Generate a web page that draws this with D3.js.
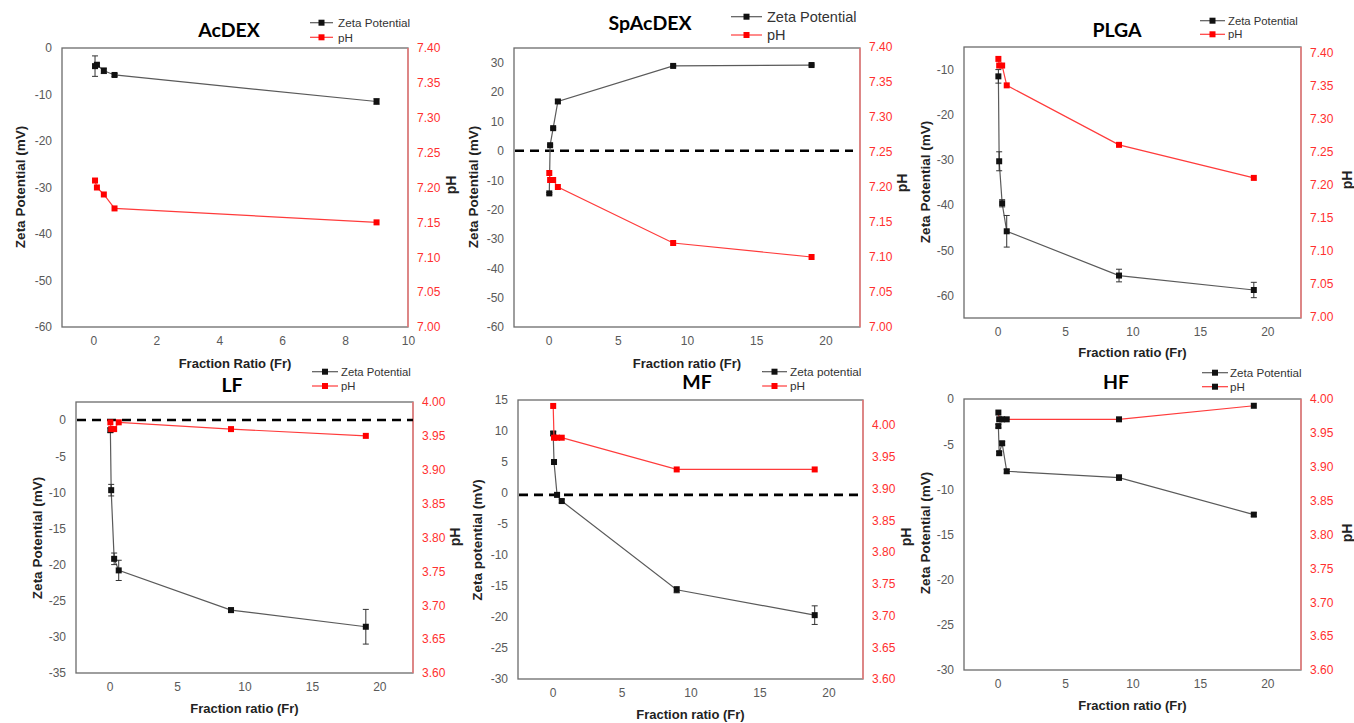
<!DOCTYPE html>
<html lang="en">
<head>
  <meta charset="UTF-8">
  <title>Zeta potential and pH vs fraction ratio</title>
  <style>
    body { margin: 0; background: #fff; }
    svg { display: block; }
    text { font-family: "Liberation Sans", Arial, sans-serif; }
    .title { font-family: Lato, "Open Sans", sans-serif; font-weight: bold; }
  </style>
</head>
<body>
  <svg id="chart" width="1354" height="723"></svg>

  <script src="https://d3js.org/d3.v7.min.js"></script>
  <script>
    // fraction ratios (Fr) used in the experiments
    const frFull = [0.05, 0.11, 0.33, 0.67, 9, 19];
    const frAcDEX = [0.05, 0.11, 0.33, 0.67, 9];

    // AcDEX
    const zetaAcDEX = [-3.9, -3.6, -4.9, -5.8, -11.5];
    const zetaErrAcDEX = [2.2, 0.3, 0.6, 0.3, 0.6];
    const phAcDEX = [7.21, 7.20, 7.19, 7.17, 7.15];

    // SpAcDEX
    const zetaSpAcDEX = [-14.5, 1.9, 7.7, 16.8, 28.9, 29.2];
    const zetaErrSpAcDEX = [0.3, 0.3, 0.3, 0.6, 0.3, 0.3];
    const phSpAcDEX = [7.22, 7.21, 7.21, 7.20, 7.12, 7.10];

    // PLGA
    const zetaPLGA = [-11.5, -30.3, -39.6, -45.8, -55.6, -58.8];
    const zetaErrPLGA = [1.5, 2.1, 0.8, 3.5, 1.4, 1.7];
    const phPLGA = [7.39, 7.38, 7.38, 7.35, 7.26, 7.21];

    // LF
    const zetaLF = [-1.4, -9.7, -19.2, -20.8, -26.3, -28.6];
    const zetaErrLF = [0.3, 0.8, 0.8, 1.4, 0.3, 2.4];
    const phLF = [3.97, 3.96, 3.96, 3.97, 3.96, 3.95];

    // MF
    const zetaMF = [9.6, 5.0, -0.3, -1.3, -15.6, -19.7];
    const zetaErrMF = [0.3, 0.3, 0.3, 0.3, 0.5, 1.5];
    const phMF = [4.03, 3.98, 3.98, 3.98, 3.93, 3.93];

    // HF
    const zetaHF = [-3.0, -6.0, -4.9, -8.0, -8.7, -12.8];
    const zetaErrHF = [0.2, 0.2, 0.2, 0.2, 0.3, 0.2];
    const phHF = [3.98, 3.97, 3.97, 3.97, 3.97, 3.99];

    // tick labels
    const xTicks10 = [0, 2, 4, 6, 8, 10];
    const xTicks20 = [0, 5, 10, 15, 20];
    const zetaTicksAcDEX = [-60, -50, -40, -30, -20, -10, 0];
    const zetaTicksSpAcDEX = [-60, -50, -40, -30, -20, -10, 0, 10, 20, 30];
    const zetaTicksPLGA = [-60, -50, -40, -30, -20, -10];
    const zetaTicksLF = [-35, -30, -25, -20, -15, -10, -5, 0];
    const zetaTicksMF = [-30, -25, -20, -15, -10, -5, 0, 5, 10, 15];
    const zetaTicksHF = [-30, -25, -20, -15, -10, -5, 0];
    const phTicksHigh = [7.00, 7.05, 7.10, 7.15, 7.20, 7.25, 7.30, 7.35, 7.40];
    const phTicksLow = [3.60, 3.65, 3.70, 3.75, 3.80, 3.85, 3.90, 3.95, 4.00];

    // panel layout (pixel boxes and axis ranges)
    const panels = [
      { title: "AcDEX", titleX: 229, titleY: 37,
        box: { l: 62, t: 48, r: 408, b: 327 },
        xDom: [-1, 10], xTicks: xTicks10, yDom: [-60, 0], yTicks: zetaTicksAcDEX,
        rDom: [7.0, 7.4], rTop: 48, rTicks: phTicksHigh,
        fr: frAcDEX, zeta: zetaAcDEX, err: zetaErrAcDEX, ph: phAcDEX,
        yLabel: "Zeta Potential (mV)", yLabelX: 20, yLabelY: 187,
        xLabel: "Fraction Ratio (Fr)", xLabelY: 368, phLabelX: 451, phLabelY: 185,
        legend: { x1: 310, x2: 333, y1: 22.7, y2: 37.3, tx: 338, fs: 11.7, zetaText: "Zeta Potential" } },
      { title: "SpAcDEX", titleX: 650, titleY: 30,
        box: { l: 514, t: 48, r: 860, b: 327 },
        xDom: [-2.5, 22.5], xTicks: xTicks20, yDom: [-60, 35], yTicks: zetaTicksSpAcDEX,
        rDom: [7.0, 7.4], rTop: 47, rTicks: phTicksHigh,
        fr: frFull, zeta: zetaSpAcDEX, err: zetaErrSpAcDEX, ph: phSpAcDEX, zeroLine: 0, zeroEnd: 853,
        yLabel: "Zeta Potential (mV)", yLabelX: 473, yLabelY: 187,
        xLabel: "Fraction ratio (Fr)", xLabelY: 368, phLabelX: 902, phLabelY: 183,
        legend: { x1: 731, x2: 762, y1: 16.7, y2: 35, tx: 767, fs: 14.5, zetaText: "Zeta Potential" } },
      { title: "PLGA", titleX: 1117, titleY: 37,
        box: { l: 964, t: 47, r: 1301, b: 318 },
        xDom: [-2.5, 22.5], xTicks: xTicks20, yDom: [-65, -5], yTicks: zetaTicksPLGA,
        rDom: [7.0, 7.4], rTop: 52.3, rBottom: 316.7, rTicks: phTicksHigh,
        fr: frFull, zeta: zetaPLGA, err: zetaErrPLGA, ph: phPLGA,
        yLabel: "Zeta Potential (mV)", yLabelX: 925, yLabelY: 182,
        xLabel: "Fraction ratio (Fr)", xLabelY: 357, phLabelX: 1347, phLabelY: 180,
        legend: { x1: 1200, x2: 1225, y1: 20.7, y2: 34.3, tx: 1228, fs: 11.3, zetaText: "Zeta Potential" } },
      { title: "LF", titleX: 232, titleY: 392,
        box: { l: 76, t: 402, r: 413, b: 673 },
        xDom: [-2.5, 22.5], xTicks: xTicks20, yDom: [-35, 2.5], yTicks: zetaTicksLF,
        rDom: [3.6, 4.0], rTop: 402, rTicks: phTicksLow,
        fr: frFull, zeta: zetaLF, err: zetaErrLF, ph: phLF, zeroLine: 0, zeroEnd: 413,
        yLabel: "Zeta Potential (mV)", yLabelX: 37, yLabelY: 538,
        xLabel: "Fraction ratio (Fr)", xLabelY: 713, phLabelX: 455, phLabelY: 537,
        legend: { x1: 312, x2: 338, y1: 371.7, y2: 386, tx: 341, fs: 11.3, zetaText: "Zeta Potential" } },
      { title: "MF", titleX: 697, titleY: 389,
        box: { l: 518, t: 400, r: 863, b: 679 },
        xDom: [-2.5, 22.5], xTicks: xTicks20, yDom: [-30, 15], yTicks: zetaTicksMF,
        rDom: [3.6, 4.0], rTop: 425, rTicks: phTicksLow,
        fr: frFull, zeta: zetaMF, err: zetaErrMF, ph: phMF, zeroLine: -0.3, zeroEnd: 863,
        yLabel: "Zeta potential (mV)", yLabelX: 477, yLabelY: 540,
        xLabel: "Fraction ratio (Fr)", xLabelY: 719, phLabelX: 906, phLabelY: 537,
        legend: { x1: 762, x2: 787, y1: 371.7, y2: 386, tx: 790, fs: 11.8, zetaText: "Zeta potential" } },
      { title: "HF", titleX: 1116, titleY: 389,
        box: { l: 964, t: 399, r: 1301, b: 670 },
        xDom: [-2.5, 22.5], xTicks: xTicks20, yDom: [-30, 0], yTicks: zetaTicksHF,
        rDom: [3.6, 4.0], rTop: 399, rTicks: phTicksLow, phMarker: "#111",
        fr: frFull, zeta: zetaHF, err: zetaErrHF, ph: phHF,
        yLabel: "Zeta Potential (mV)", yLabelX: 925, yLabelY: 533,
        xLabel: "Fraction ratio (Fr)", xLabelY: 710, phLabelX: 1347, phLabelY: 533,
        legend: { x1: 1202, x2: 1228, y1: 372.7, y2: 386.7, tx: 1230, fs: 11.6, zetaText: "Zeta Potential" } }
    ];

    const svg = d3.select("#chart");
    svg.append("rect").attr("width", 1354).attr("height", 723).attr("fill", "#fff");

    const MS = 6; // marker size

    function drawPanel(p) {
      const g = svg.append("g").attr("class", "panel");
      const b = p.box;
      const x = d3.scaleLinear().domain(p.xDom).range([b.l, b.r]);
      const yL = d3.scaleLinear().domain(p.yDom).range([b.b, b.t]);
      const yR = d3.scaleLinear().domain(p.rDom).range([p.rBottom || b.b, p.rTop]);

      // plot area frame
      g.append("rect")
        .attr("x", b.l).attr("y", b.t)
        .attr("width", b.r - b.l).attr("height", b.b - b.t)
        .attr("fill", "none").attr("stroke", "#6b6b6b").attr("stroke-width", 1.3);
      g.append("line")
        .attr("x1", b.r).attr("x2", b.r).attr("y1", b.t).attr("y2", b.b)
        .attr("stroke", "#ff7a7a").attr("stroke-width", 1.3);

      // axes
      g.append("g").attr("transform", `translate(${b.l},0)`)
        .call(d3.axisLeft(yL).tickValues(p.yTicks).tickSize(0).tickPadding(10).tickFormat(d => String(d)))
        .call(a => a.select(".domain").remove())
        .call(a => a.selectAll("text").attr("fill", "#595959").style("font-size", "12px").style("font-family", "Liberation Sans, Arial"));

      g.append("g").attr("transform", `translate(${b.r},0)`)
        .call(d3.axisRight(yR).tickValues(p.rTicks).tickSize(0).tickPadding(9).tickFormat(d => d.toFixed(2)))
        .call(a => a.select(".domain").remove())
        .call(a => a.selectAll("text").attr("fill", "#ff3030").style("font-size", "12px").style("font-family", "Liberation Sans, Arial"));

      g.append("g").attr("transform", `translate(0,${b.b})`)
        .call(d3.axisBottom(x).tickValues(p.xTicks).tickSize(0).tickPadding(9).tickFormat(d => String(d)))
        .call(a => a.select(".domain").remove())
        .call(a => a.selectAll("text").attr("fill", "#595959").style("font-size", "12px").style("font-family", "Liberation Sans, Arial"));

      // zero reference line
      if (p.zeroLine !== undefined) {
        g.append("line")
          .attr("x1", b.l + 1).attr("x2", p.zeroEnd)
          .attr("y1", yL(p.zeroLine)).attr("y2", yL(p.zeroLine))
          .attr("stroke", "#000").attr("stroke-width", 2.6).attr("stroke-dasharray", "9,6");
      }

      // zeta series
      const zetaPts = p.fr.map((f, i) => ({ x: f, y: p.zeta[i], e: p.err[i] }));
      g.append("path").datum(zetaPts)
        .attr("fill", "none").attr("stroke", "#5a5a5a").attr("stroke-width", 1.2)
        .attr("d", d3.line().x(d => x(d.x)).y(d => yL(d.y)));

      const eb = g.append("g").attr("stroke", "#333").attr("stroke-width", 1);
      zetaPts.forEach(d => {
        const cx = x(d.x);
        eb.append("line").attr("x1", cx).attr("x2", cx).attr("y1", yL(d.y - d.e)).attr("y2", yL(d.y + d.e));
        eb.append("line").attr("x1", cx - 3).attr("x2", cx + 3).attr("y1", yL(d.y - d.e)).attr("y2", yL(d.y - d.e));
        eb.append("line").attr("x1", cx - 3).attr("x2", cx + 3).attr("y1", yL(d.y + d.e)).attr("y2", yL(d.y + d.e));
      });

      g.selectAll(".zm").data(zetaPts).join("rect")
        .attr("x", d => x(d.x) - MS / 2).attr("y", d => yL(d.y) - MS / 2)
        .attr("width", MS).attr("height", MS).attr("fill", "#111");

      // pH series
      const phPts = p.fr.map((f, i) => ({ x: f, y: p.ph[i] }));
      g.append("path").datum(phPts)
        .attr("fill", "none").attr("stroke", "#ff3b3b").attr("stroke-width", 1.2)
        .attr("d", d3.line().x(d => x(d.x)).y(d => yR(d.y)));
      g.selectAll(".pm").data(phPts).join("rect")
        .attr("x", d => x(d.x) - MS / 2).attr("y", d => yR(d.y) - MS / 2)
        .attr("width", MS).attr("height", MS).attr("fill", p.phMarker || "#ff0000");

      // titles and axis labels
      g.append("text").attr("class", "title")
        .attr("x", p.titleX).attr("y", p.titleY)
        .attr("text-anchor", "middle").style("font-size", "19.5px").attr("fill", "#000")
        .text(p.title);

      g.append("text")
        .attr("transform", `translate(${p.yLabelX},${p.yLabelY}) rotate(-90)`)
        .attr("text-anchor", "middle").attr("dy", "0.35em")
        .style("font-size", "13.5px").style("font-weight", "bold").attr("fill", "#222")
        .text(p.yLabel);

      g.append("text")
        .attr("transform", `translate(${p.phLabelX},${p.phLabelY}) rotate(-90)`)
        .attr("text-anchor", "middle").attr("dy", "0.35em")
        .style("font-size", "14px").style("font-weight", "bold").attr("fill", "#222")
        .text("pH");

      g.append("text")
        .attr("x", (b.l + b.r) / 2).attr("y", p.xLabelY)
        .attr("text-anchor", "middle")
        .style("font-size", "13px").style("font-weight", "bold").attr("fill", "#222")
        .text(p.xLabel);

      // legend
      const lg = p.legend;
      const items = [
        { y: lg.y1, stroke: "#5a5a5a", fill: "#111", label: lg.zetaText },
        { y: lg.y2, stroke: "#ff3b3b", fill: p.phMarker || "#ff0000", label: "pH" }
      ];
      items.forEach(it => {
        g.append("line").attr("x1", lg.x1).attr("x2", lg.x2).attr("y1", it.y).attr("y2", it.y)
          .attr("stroke", it.stroke).attr("stroke-width", 1.2);
        g.append("rect").attr("x", (lg.x1 + lg.x2) / 2 - MS / 2).attr("y", it.y - MS / 2)
          .attr("width", MS).attr("height", MS).attr("fill", it.fill);
        g.append("text").attr("x", lg.tx).attr("y", it.y).attr("dy", "0.36em")
          .style("font-size", lg.fs + "px").attr("fill", "#333").text(it.label);
      });
    }

    panels.forEach(drawPanel);
  </script>
</body>
</html>
